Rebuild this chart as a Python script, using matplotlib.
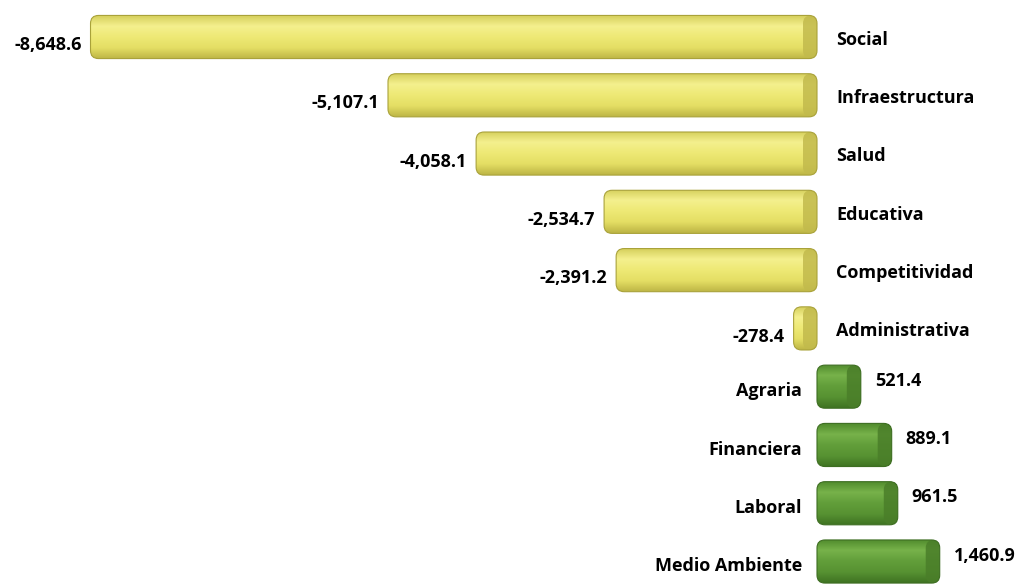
import matplotlib
matplotlib.use("Agg")
import matplotlib.pyplot as plt
import numpy as np
from matplotlib.patches import FancyBboxPatch
from matplotlib.colors import LinearSegmentedColormap

categories = ["Social", "Infraestructura", "Salud", "Educativa", "Competitividad",
              "Administrativa", "Agraria", "Financiera", "Laboral", "Medio Ambiente"]
values = [-8648.6, -5107.1, -4058.1, -2534.7, -2391.2, -278.4, 521.4, 889.1, 961.5, 1460.9]
value_labels = ["-8,648.6", "-5,107.1", "-4,058.1", "-2,534.7", "-2,391.2", "-278.4",
                "521.4", "889.1", "961.5", "1,460.9"]

plt.rcParams['font.family'] = ['Open Sans', 'DejaVu Sans']

fig = plt.figure(figsize=(10.23, 5.86), dpi=100)
ax = fig.add_axes([0, 0, 1, 1])
pxx = 0.0840                  # px per x unit
zero_px = 817
ax.set_xlim(-zero_px / pxx, (1023 - zero_px) / pxx)
ax.set_ylim(9.42, -0.635)
ax.axis('off')

pxy = 586 / (9.42 + 0.635)   # px per y unit
bar_h = 0.74

yellow_cmap = LinearSegmentedColormap.from_list("y", ["#D4CE5A", "#F4F08E", "#EEE975", "#E4DE64", "#BDB545"])
green_cmap = LinearSegmentedColormap.from_list("g", ["#4F8A2C", "#77B24A", "#629E3A", "#579232", "#3F7322"])
cap_y = "#C2BA4C"
cap_g = "#4A7E29"

grad = np.linspace(0, 1, 100).reshape(-1, 1)

for i, (v, cat, lab) in enumerate(zip(values, categories, value_labels)):
    left = min(v, 0)
    w = abs(v)
    cmap = yellow_cmap if v < 0 else green_cmap
    capc = cap_y if v < 0 else cap_g
    edgec = "#A9A23A" if v < 0 else "#3E6E22"
    rpx = 8
    patch = FancyBboxPatch((left, i - bar_h / 2), w, bar_h,
                           boxstyle=f"round,pad=0,rounding_size={rpx / pxx}",
                           mutation_aspect=(1 / pxy) / (1 / pxx),
                           facecolor="none", edgecolor=edgec, linewidth=0.8, zorder=3)
    ax.add_patch(patch)
    im = ax.imshow(grad, cmap=cmap, aspect='auto',
                   extent=(left, left + w, i + bar_h / 2, i - bar_h / 2), zorder=2)
    im.set_clip_path(patch)
    capw = min(14 / pxx, w * 0.6)
    cap = FancyBboxPatch((left + w - capw, i - bar_h / 2), capw, bar_h,
                         boxstyle=f"round,pad=0,rounding_size={rpx / pxx}",
                         mutation_aspect=(1 / pxy) / (1 / pxx),
                         facecolor=capc, edgecolor="none", alpha=0.85, zorder=2.5)
    ax.add_patch(cap)
    cap.set_clip_path(patch)

    fs = 13
    if v < 0:
        ax.text(left - 9 / pxx, i + 0.14, lab, ha='right', va='center',
                fontsize=fs, fontweight='bold', color='black')
        ax.text(19 / pxx, i + 0.05, cat, ha='left', va='center',
                fontsize=fs, fontweight='bold', color='black')
    else:
        ax.text(-15 / pxx, i + 0.08, cat, ha='right', va='center',
                fontsize=fs, fontweight='bold', color='black')
        ax.text(v + 14 / pxx, i - 0.1, lab, ha='left', va='center',
                fontsize=fs, fontweight='bold', color='black')

fig.savefig("out.png", dpi=100)
